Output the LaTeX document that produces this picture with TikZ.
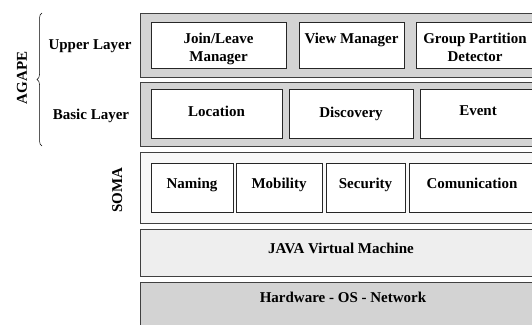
\documentclass[tikz,border=0pt]{standalone}
\usepackage{fontspec}
\setmainfont{Liberation Serif}
\usetikzlibrary{decorations.pathreplacing}
\definecolor{layergray}{HTML}{D4D4D4}
\definecolor{somafill}{HTML}{F8F8F8}
\definecolor{jvmfill}{HTML}{EEEEEE}
\definecolor{hwfill}{HTML}{D3D3D3}
\tikzset{
  layerbox/.style={draw=black!75, line width=1.3pt, anchor=north west, inner sep=0pt},
  modbox/.style={draw=black!85, line width=1pt, fill=white, anchor=north west, inner sep=0pt},
  lbl/.style={font=\bfseries\fontsize{15}{18}\selectfont, align=center, inner sep=0pt, anchor=base},
}
\begin{document}
\begin{tikzpicture}[x=1pt,y=-1pt]
\useasboundingbox (0,0) rectangle (532,324);
\clip (0,0) rectangle (532,324);
% layers
\node[layerbox, fill=layergray, minimum width=403pt, minimum height=64pt] (upper) at (140,13) {};
\node[layerbox, fill=layergray, minimum width=403pt, minimum height=64pt] (basic) at (140,82) {};
\node[layerbox, fill=somafill, minimum width=403pt, minimum height=71pt] (soma) at (140,152) {};
\node[layerbox, fill=jvmfill, minimum width=403pt, minimum height=47pt] (jvm) at (140,229) {};
\node[layerbox, fill=hwfill, minimum width=403pt, minimum height=55pt] (hw) at (140,282) {};
% upper layer modules
\node[modbox, minimum width=135pt, minimum height=46pt] (jl) at (151,22) {};
\node[modbox, minimum width=105pt, minimum height=46pt] (vm) at (299,22) {};
\node[modbox, minimum width=119pt, minimum height=46pt] (gpd) at (416,22) {};
% basic layer modules
\node[modbox, minimum width=131pt, minimum height=49pt] (loc) at (151,89) {};
\node[modbox, minimum width=124pt, minimum height=49pt] (disc) at (289,89) {};
\node[modbox, minimum width=116pt, minimum height=49pt] (ev) at (420,89) {};
% soma modules
\node[modbox, minimum width=82pt, minimum height=49pt] (nam) at (151,163) {};
\node[modbox, minimum width=86pt, minimum height=49pt] (mob) at (236,163) {};
\node[modbox, minimum width=79pt, minimum height=49pt] (sec) at (326,163) {};
\node[modbox, minimum width=126pt, minimum height=49pt] (com) at (409,163) {};
% module labels
\node[lbl] (tjl) at (218.5,61) {Join/Leave\\Manager};
\node[lbl] (tvm) at (351.5,43) {View Manager};
\node[lbl] (tgpd) at (475,61) {Group Partition\\Detector};
\node[lbl] (tloc) at (216.5,116) {Location};
\node[lbl] (tdisc) at (351,117) {Discovery};
\node[lbl] (tev) at (478,115.5) {Event};
\node[lbl] (tnam) at (192,188.5) {Naming};
\node[lbl] (tmob) at (279,188.5) {Mobility};
\node[lbl] (tsec) at (365.5,188.5) {Security};
\node[lbl] (tcom) at (472,188.5) {Comunication};
\node[lbl] (tjvm) at (341,253) {JAVA Virtual Machine};
\node[lbl] (thw) at (343,302.5) {Hardware - OS - Network};
% side labels
\node[lbl] (tup) at (90,49.5) {Upper Layer};
\node[lbl] (tbas) at (91,119.5) {Basic Layer};
\node[lbl, rotate=90] (tagape) at (27,78) {AGAPE};
\node[lbl, rotate=90] (tsoma) at (122,190) {SOMA};
% brace
\coordinate (bbot) at (42,146);
\coordinate (btop) at (42,13);
\draw[line width=0.5pt, decorate, decoration={brace, amplitude=5pt}] (bbot) -- (btop);
\end{tikzpicture}
\end{document}
